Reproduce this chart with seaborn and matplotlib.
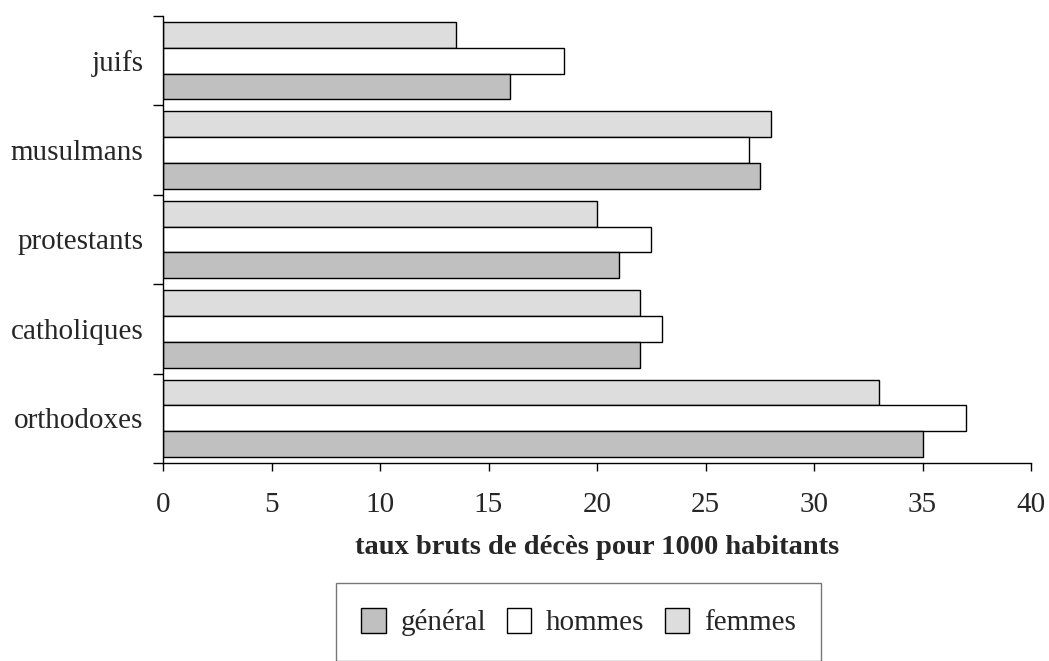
import matplotlib
matplotlib.use("Agg")
import matplotlib.pyplot as plt
import seaborn as sns
import pandas as pd
from matplotlib.patches import Patch

categories = ["juifs", "musulmans", "protestants", "catholiques", "orthodoxes"]
general = [16.0, 27.5, 21.0, 22.0, 35.0]
hommes = [18.5, 27.0, 22.5, 23.0, 37.0]
femmes = [13.5, 28.0, 20.0, 22.0, 33.0]
series_names = ["général", "hommes", "femmes"]
xticks = [0, 5, 10, 15, 20, 25, 30, 35, 40]

rows = []
for i, c in enumerate(categories):
    rows.append((c, "femmes", femmes[i]))
    rows.append((c, "hommes", hommes[i]))
    rows.append((c, "général", general[i]))
df = pd.DataFrame(rows, columns=["cat", "serie", "val"])

sns.set_style("white")
plt.rcParams["font.family"] = ["Liberation Serif", "DejaVu Serif"]

colors = {"général": "#C0C0C0", "hommes": "#FFFFFF", "femmes": "#DDDDDD"}

fig = plt.figure(figsize=(10.49, 6.61), dpi=100)
ax = fig.add_axes([163 / 1049, 1 - 463 / 661, (1031 - 163) / 1049, (463 - 16) / 661])

sns.barplot(data=df, y="cat", x="val", hue="serie", order=categories,
            hue_order=["femmes", "hommes", "général"], palette=colors,
            orient="h", width=0.865, edgecolor="black", linewidth=1.0,
            saturation=1, legend=False, ax=ax)

ax.set_xlim(0, 40)
ax.set_ylim(len(categories) - 0.5, -0.5)
ax.set_xticks(xticks)
ax.set_xticklabels([str(t) for t in xticks], fontsize=21)
ax.set_yticks([i - 0.5 for i in range(len(categories) + 1)])
ax.set_yticklabels([])
ax.set_yticks(range(len(categories)), minor=True)
ax.set_yticklabels(categories, minor=True, fontsize=21)
ax.tick_params(axis="y", which="minor", length=0, pad=14)
ax.tick_params(axis="y", which="major", length=7, width=1, direction="out", color="black", left=True)
ax.tick_params(axis="x", length=6, width=1, direction="out", color="black", pad=15, bottom=True)
ax.set_ylabel("")
ax.set_xlabel("taux bruts de décès pour 1000 habitants", fontsize=20.5, fontweight="bold", labelpad=12)

for s in ["top", "right"]:
    ax.spines[s].set_visible(False)
for s in ["left", "bottom"]:
    ax.spines[s].set_color("black")
    ax.spines[s].set_linewidth(1.0)

handles = [Patch(facecolor=colors[n], edgecolor="black", linewidth=1.0, label=n) for n in series_names]
leg = fig.legend(handles=handles, loc="upper center", bbox_to_anchor=(578.5 / 1049, 1 - 583 / 661),
                 ncol=3, fontsize=21, frameon=True, fancybox=False, edgecolor="#555555",
                 handlelength=0.85, handleheight=0.95, handletextpad=0.5, columnspacing=0.7,
                 borderpad=0.85, borderaxespad=0)
leg.get_frame().set_linewidth(1.0)

fig.savefig("out.png", dpi=100)
